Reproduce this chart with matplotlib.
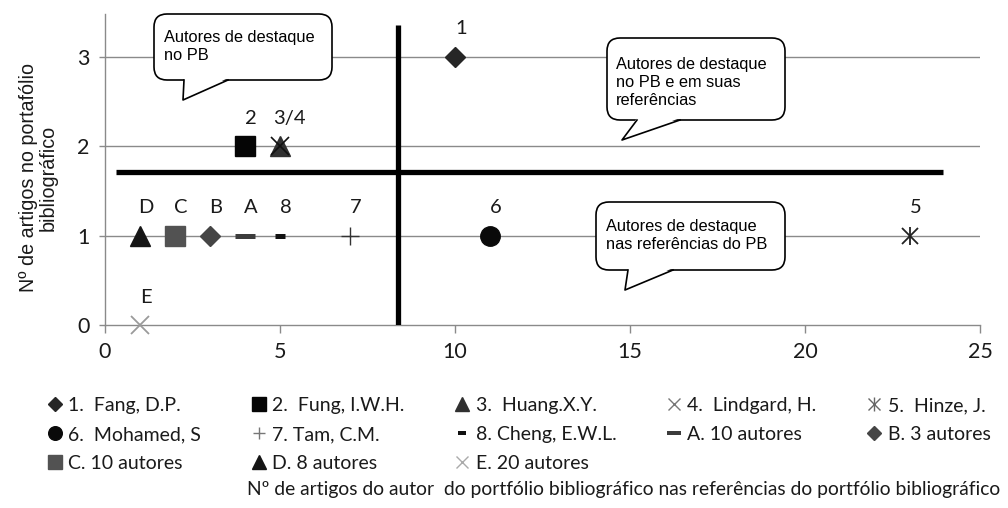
import matplotlib
matplotlib.use("Agg")
import matplotlib.pyplot as plt
from matplotlib.lines import Line2D
from matplotlib.patches import FancyBboxPatch, Polygon
from matplotlib.transforms import IdentityTransform
from matplotlib.legend_handler import HandlerTuple

# ---------------- data ----------------
point_ids = ["1", "2", "3", "4", "5", "6", "7", "8", "A", "B", "C", "D", "E"]
refs_count = [10, 4, 5, 5, 23, 11, 7, 5, 4, 3, 2, 1, 1]   # x: artigos nas referências do PB
pb_count = [3, 2, 2, 2, 1, 1, 1, 1, 1, 1, 1, 1, 0]        # y: artigos no PB
point_labels = ["1", "2", "3/4", "", "5", "6", "7", "8", "A", "B", "C", "D", "E"]
legend_labels = ["1.  Fang, D.P.", "2.  Fung, I.W.H.", "3.  Huang.X.Y.", "4.  Lindgard, H.",
                 "5.  Hinze, J.", "6.  Mohamed, S", "7. Tam, C.M.", "8. Cheng, E.W.L.",
                 "A. 10 autores", "B. 3 autores", "C. 10 autores", "D. 8 autores",
                 "E. 20 autores"]
x_ticks = [0, 5, 10, 15, 20, 25]
y_ticks = [0, 1, 2, 3]
divider_x = 8.37
divider_y = 1.71
callout_texts = ["Autores de destaque\nno PB",
                 "Autores de destaque\nno PB e em suas\nreferências",
                 "Autores de destaque\nnas referências do PB"]
xlabel_text = "Nº de artigos do autor  do portfólio bibliográfico nas referências do portfólio bibliográfico"
ylabel_text = "Nº de artigos no portafólio\nbibliográfico"

# ---------------- styles ----------------
markers = ["D", "s", "^", "x", "*6", "o", "+", "_", "_", "D", "s", "^", "x"]
sizes = [10, 15, 14, 13, 12, 14, 13, 7.5, 14, 10, 15, 14, 13]
mews = [1, 1, 1, 1.2, 1.3, 1, 1.0, 3.6, 3.6, 1, 1, 1, 1.3]
colors = ["#262626", "#050505", "#303030", "#111111", "#222222", "#0a0a0a", "#333333",
          "#111111", "#3c3c3c", "#454545", "#525252", "#151515", "#9a9a9a"]

LATO = ["Lato", "DejaVu Sans"]
ARIAL = ["Liberation Sans", "DejaVu Sans"]

fig = plt.figure(figsize=(10.08, 5.08), dpi=100)
W, H = 1008, 508
ax = fig.add_axes([105 / W, 1 - 325 / H, (980 - 105) / W, (325 - 14) / H])
ax.set_xlim(0, 25)
ax.set_ylim(0, 3.48)

for s in ["top", "right"]:
    ax.spines[s].set_visible(False)
for s in ["left", "bottom"]:
    ax.spines[s].set_color("#8a8a8a")
    ax.spines[s].set_linewidth(1.0)

ax.set_xticks(x_ticks)
ax.set_yticks(y_ticks)
ax.tick_params(axis="x", direction="out", length=6, width=1, color="#8a8a8a", pad=6,
               labelsize=15.5)
ax.tick_params(axis="y", direction="out", length=4, width=1, color="#8a8a8a", pad=7,
               labelsize=15.5)
for lab in ax.get_xticklabels() + ax.get_yticklabels():
    lab.set_family(LATO)
    lab.set_color("#1a1a1a")

for yv in y_ticks[1:]:
    ax.axhline(yv, color="#8a8a8a", lw=1.0, zorder=1)

# quadrant dividers
ax.plot([divider_x, divider_x], [0, 3.36], color="black", lw=3.8, zorder=3,
        solid_capstyle="butt")
ax.plot([0.32, 23.94], [divider_y, divider_y], color="black", lw=3.8, zorder=3,
        solid_capstyle="butt")

handles = []
for i, pid in enumerate(point_ids):
    m = markers[i]
    if m == "*6":
        ax.plot(refs_count[i], pb_count[i], ls="none", marker="x", ms=sizes[i],
                mew=mews[i], color=colors[i], zorder=5, clip_on=False)
        ax.plot(refs_count[i], pb_count[i], ls="none", marker="|", ms=sizes[i] * 1.1,
                mew=mews[i], color=colors[i], zorder=5, clip_on=False)
        h = (Line2D([], [], ls="none", marker="x", ms=sizes[i] * 0.75, mew=1.0,
                    color="#666666"),
             Line2D([], [], ls="none", marker="|", ms=sizes[i] * 0.8, mew=1.0,
                    color="#666666"))
    else:
        ax.plot(refs_count[i], pb_count[i], ls="none", marker=m, ms=sizes[i],
                mew=mews[i], color=colors[i], zorder=5, clip_on=False)
        lc = colors[i]
        if m in ("x", "+"):
            lc = "#777777" if pid != "E" else "#aaaaaa"
        hs = sizes[i] * 0.7
        h = Line2D([], [], ls="none", marker=m, ms=hs,
                   mew=(mews[i] * 0.8 if m == "_" else 1.0), color=lc)
    handles.append(h)

    if point_labels[i]:
        dx = 9 if point_labels[i] == "3/4" else 6
        ax.annotate(point_labels[i], (refs_count[i], pb_count[i]),
                    xytext=(dx / 1.389, 28 / 1.389), textcoords="offset points",
                    ha="center", va="center", fontsize=14.5, family=LATO,
                    color="#1a1a1a", zorder=6)

# ---------------- callout bubbles (pixel layout) ----------------
def px(x, y):
    return (x, H - y)

def bubble(x0, y0, x1, y1, tail, text, tx, ty):
    (a, b) = px(x0, y1)
    box = FancyBboxPatch((a, b), x1 - x0, y1 - y0,
                         boxstyle="round,pad=0,rounding_size=13",
                         transform=IdentityTransform(), facecolor="white",
                         edgecolor="black", lw=1.2, zorder=7)
    fig.add_artist(box)
    bl, tip, br = tail
    poly = Polygon([px(bl[0], bl[1] - 2), px(*tip), px(br[0], br[1] - 2)],
                   closed=True, transform=IdentityTransform(), facecolor="white",
                   edgecolor="none", zorder=8)
    fig.add_artist(poly)
    ln = Line2D([px(*bl)[0], px(*tip)[0], px(*br)[0]],
                [px(*bl)[1], px(*tip)[1], px(*br)[1]],
                transform=IdentityTransform(), color="black", lw=1.2, zorder=9)
    fig.add_artist(ln)
    fig.text(tx / W, 1 - ty / H, text, ha="left", va="center", fontsize=11.8,
             family=ARIAL, color="black", linespacing=1.25, zorder=10)

bubble(154, 14, 332, 80, ((184, 80), (183, 100), (228, 80)), callout_texts[0], 164, 46.5)
bubble(607, 38, 785, 120, ((637, 120), (622, 140), (680, 120)), callout_texts[1], 616, 82.5)
bubble(596, 202, 785, 270, ((628, 270), (625, 290), (673, 270)), callout_texts[2], 606, 235.5)

# ---------------- axis titles ----------------
fig.text(38 / W, 1 - 178 / H, ylabel_text, rotation=90, ha="center", va="center",
         fontsize=14.2, family=ARIAL, color="#1a1a1a", linespacing=1.05,
         multialignment="center")
fig.text(1000 / W, 1 - 490 / H, xlabel_text, ha="right", va="center", fontsize=13.9,
         family=LATO, color="#1a1a1a")

# ---------------- legend ----------------
order = [0, 5, 10, 1, 6, 11, 2, 7, 12, 3, 8, 4, 9]
leg = fig.legend([handles[k] for k in order], [legend_labels[k] for k in order],
                 loc="upper left", bbox_to_anchor=(46 / W, 1 - 397 / H), ncol=5,
                 frameon=False, borderpad=0, borderaxespad=0, handlelength=0.9,
                 handletextpad=0.25, columnspacing=2.5, labelspacing=0.62,
                 prop={"family": LATO, "size": 14},
                 handler_map={tuple: HandlerTuple(ndivide=1, pad=0)})
for t in leg.get_texts():
    t.set_color("#1a1a1a")

fig.savefig("out.png", dpi=100)
